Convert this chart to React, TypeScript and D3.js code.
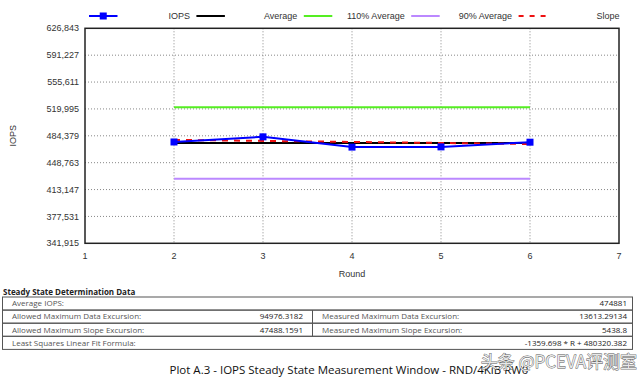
import React from "react";
import * as d3 from "d3";

const rounds = [2, 3, 4, 5, 6];
const iops = [476200, 483000, 469400, 469700, 475900];
const average = 474881;
const slopeA = -1359.698;
const slopeB = 480320.382;
const yTicks = [341915, 377531, 413147, 448763, 484379, 519995, 555611, 591227, 626843];
const xTicks = [1, 2, 3, 4, 5, 6, 7];
const legendItems = [
  { label: "", color: "#0000ff", marker: true, dash: "" },
  { label: "IOPS", color: "#000000", marker: false, dash: "" },
  { label: "Average", color: "#55ee22", marker: false, dash: "" },
  { label: "110% Average", color: "#bb88ff", marker: false, dash: "" },
  { label: "90% Average", color: "#ee1111", marker: false, dash: "5,6" },
  { label: "Slope", color: "", marker: false, dash: "" },
];
const tableRows = [
  { l1: "Average IOPS:", v1: "", l2: "", v2: "474881", split: false },
  { l1: "Allowed Maximum Data Excursion:", v1: "94976.3182", l2: "Measured Maximum Data Excursion:", v2: "13613.29134", split: true },
  { l1: "Allowed Maximum Slope Excursion:", v1: "47488.1591", l2: "Measured Maximum Slope Excursion:", v2: "5438.8", split: true },
  { l1: "Least Squares Linear Fit Formula:", v1: "", l2: "", v2: "-1359.698 * R + 480320.382", split: false },
];

export default function App() {
  const left = 85, right = 619, top = 28.3, bottom = 243.3;
  const x = d3.scaleLinear().domain([1, 7]).range([left, right]);
  const y = d3.scaleLinear().domain([yTicks[0], yTicks[yTicks.length - 1]]).range([bottom, top]);
  const fmt = d3.format(",");
  const line = d3.line<number>().x((_, i) => x(rounds[i])).y((d) => y(d));
  const x0 = rounds[0], x1 = rounds[rounds.length - 1];
  const hline = (v: number) => d3.line<[number, number]>().x((d) => x(d[0])).y((d) => y(d[1]))([[x0, v], [x1, v]]) as string;
  const slopePath = d3.line<[number, number]>().x((d) => x(d[0])).y((d) => y(d[1]))([
    [x0, slopeA * 1 + slopeB],
    [x1, slopeA * rounds.length + slopeB],
  ]) as string;

  const font = "'Liberation Sans', Arial, sans-serif";
  const tfont = "'Open Sans', sans-serif";

  // legend geometry
  const legendY = 16;
  const legendStart = 89;
  const legendStep = 107.4;

  const tLeft = 2.5, tRight = 632.5, tTop = 297, rowH = 13.1, split = 312.5;

  return (
    <svg width={640} height={382} style={{ position: "absolute", left: 0, top: 0, background: "#fff" }}>
      <rect width={640} height={382} fill="#fff" />
      {/* grid */}
      {yTicks.slice(1, -1).map((t) => (
        <line key={"gy" + t} x1={left} x2={right} y1={y(t)} y2={y(t)} stroke="#888" strokeWidth={1} strokeDasharray="1,2" />
      ))}
      {xTicks.slice(1, -1).map((t) => (
        <line key={"gx" + t} x1={x(t)} x2={x(t)} y1={top} y2={bottom} stroke="#888" strokeWidth={1} strokeDasharray="1,2" />
      ))}
      {/* lines */}
      <path d={hline(average * 1.1)} stroke="#55ee22" strokeWidth={2} fill="none" />
      <path d={hline(average * 0.9)} stroke="#bb88ff" strokeWidth={2} fill="none" />
      <path d={hline(average)} stroke="#000" strokeWidth={2} fill="none" />
      <path d={slopePath} stroke="#ee1111" strokeWidth={2} fill="none" strokeDasharray="6,6" />
      <path d={line(iops) as string} stroke="#0000ff" strokeWidth={2} fill="none" />
      {iops.map((v, i) => (
        <rect key={"m" + i} x={x(rounds[i]) - 3.5} y={y(v) - 3.5} width={7} height={7} fill="#0000ff" />
      ))}
      {/* frame */}
      <rect x={left} y={top} width={right - left} height={bottom - top} fill="none" stroke="#222" strokeWidth={1.5} />
      {/* y ticks */}
      {yTicks.map((t) => (
        <text key={"yt" + t} x={79} y={y(t)} dy="0.35em" textAnchor="end" fontFamily={font} fontSize={9} fill="#333">
          {fmt(t)}
        </text>
      ))}
      {xTicks.map((t) => (
        <text key={"xt" + t} x={x(t)} y={259} textAnchor="middle" fontFamily={font} fontSize={9} fill="#333">
          {t}
        </text>
      ))}
      <text x={x(4)} y={277} textAnchor="middle" fontFamily={font} fontSize={9} fill="#333">Round</text>
      <text transform={`translate(16,${(top + bottom) / 2}) rotate(-90)`} textAnchor="middle" fontFamily={font} fontSize={9} fill="#333">IOPS</text>
      {/* legend */}
      {legendItems.map((it, i) => {
        const sx = legendStart + i * legendStep;
        return (
          <g key={"lg" + i}>
            {it.color && (
              <line x1={sx} x2={sx + 28.5} y1={legendY} y2={legendY} stroke={it.color} strokeWidth={2} strokeDasharray={it.dash || undefined} />
            )}
            {it.marker && <rect x={sx + 14.25 - 3.5} y={legendY - 3.5} width={7} height={7} fill={it.color} />}
            {it.label && (
              <text x={sx - 6.5} y={legendY} dy="0.35em" textAnchor="end" fontFamily={font} fontSize={9} fill="#333">
                {it.label}
              </text>
            )}
          </g>
        );
      })}
      {/* table */}
      <text x={3} y={295} fontFamily={tfont} fontWeight="bold" fontSize={8} fill="#222">Steady State Determination Data</text>
      {tableRows.map((r, i) => {
        const ry = tTop + i * rowH;
        return (
          <g key={"tr" + i}>
            <rect x={tLeft} y={ry} width={tRight - tLeft} height={rowH} fill="none" stroke="#555" strokeWidth={1} />
            {r.split && <line x1={split} x2={split} y1={ry} y2={ry + rowH} stroke="#555" strokeWidth={1} />}
            <text x={12} y={ry + rowH / 2} dy="0.35em" fontFamily={tfont} fontSize={8} fill="#555">{r.l1}</text>
            {r.v1 && <text x={303} y={ry + rowH / 2} dy="0.35em" textAnchor="end" fontFamily={tfont} fontSize={8} fill="#222">{r.v1}</text>}
            {r.l2 && <text x={322} y={ry + rowH / 2} dy="0.35em" fontFamily={tfont} fontSize={8} fill="#555">{r.l2}</text>}
            <text x={627} y={ry + rowH / 2} dy="0.35em" textAnchor="end" fontFamily={tfont} fontSize={8} fill="#222">{r.v2}</text>
          </g>
        );
      })}
      <text x={349} y={374} textAnchor="middle" fontFamily={tfont} fontSize={11.5} fill="#111">
        Plot A.3 - IOPS Steady State Measurement Window - RND/4KiB RW0
      </text>
      {/* watermark */}
      <text x={637} y={368} textAnchor="end" fontFamily="'Noto Sans CJK SC', sans-serif" fontSize={17} fill="#e8e8e8" stroke="#555" strokeWidth={0.8} paintOrder="stroke">
        头条 @PCEVA评测室
      </text>
    </svg>
  );
}
